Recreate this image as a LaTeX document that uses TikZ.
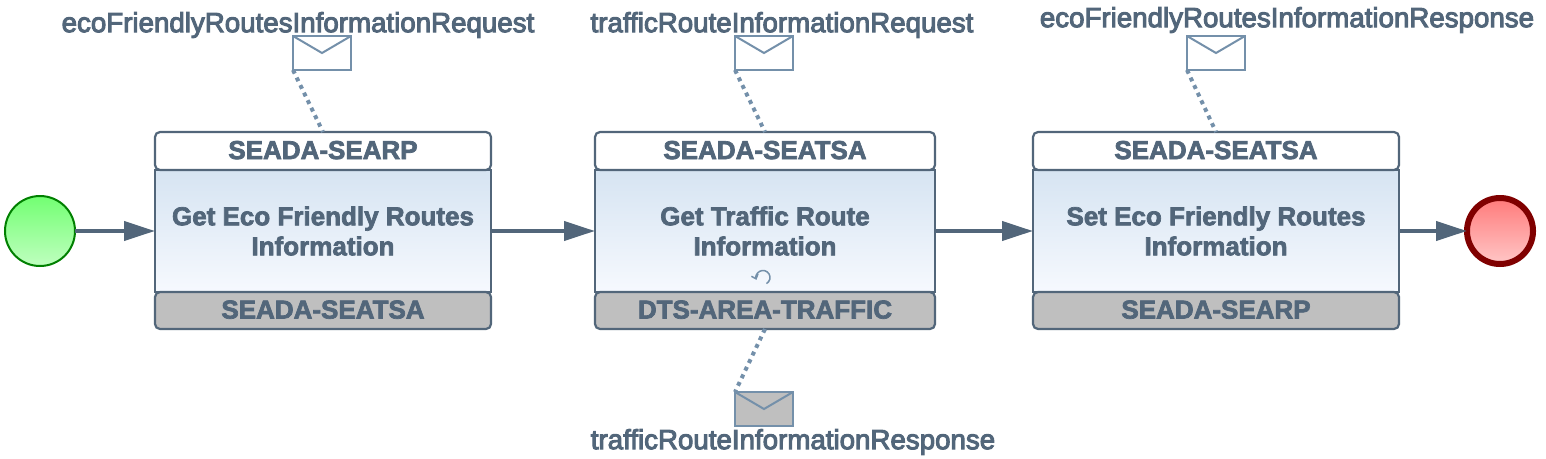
\documentclass[tikz,border=0pt]{standalone}
\usepackage{fontspec}
\setmainfont{Liberation Sans}
\usetikzlibrary{arrows.meta}
\definecolor{inkblue}{HTML}{52667A}
\definecolor{envblue}{HTML}{7490AA}
\definecolor{footgray}{HTML}{BFBFBF}
\definecolor{bodytop}{HTML}{D6E4F2}
\definecolor{bodybottom}{HTML}{F6F9FE}
\newcommand{\msgink}{\special{pdf:code 2 Tr 1 w}}
\newcommand{\taskink}{\special{pdf:code 2 Tr 0.7 w}}
\tikzset{
	taskbody/.style={draw=inkblue,line width=2.2pt,outer sep=0pt,inner sep=0pt,minimum height=122pt,top color=bodytop,bottom color=bodybottom,text=inkblue,align=center,font=\fontsize{26}{30}\selectfont\bfseries\taskink},
	taskhead/.style={draw=inkblue,line width=2.2pt,outer sep=0pt,inner sep=0pt,rounded corners=5pt,minimum height=38pt,fill=white,text=inkblue,text depth=2pt,font=\fontsize{26}{30}\selectfont\bfseries\taskink},
	taskfoot/.style={taskhead,minimum height=37pt,fill=footgray},
	envelope/.style={draw=envblue,line width=2pt,outer sep=0pt,inner sep=0pt,minimum width=58pt,minimum height=34pt,path picture={\draw[envblue,line width=2pt] (path picture bounding box.north west) -- (path picture bounding box.center) -- (path picture bounding box.north east);}},
	msglabel/.style={text=inkblue,inner sep=0pt,font=\fontsize{27.7}{30}\selectfont\msgink},
	flow/.style={draw=inkblue,line width=4pt,-{Triangle[length=31pt,width=19pt]}},
	assoc/.style={draw=envblue,line width=4pt,dash pattern=on 4pt off 4.4pt},
}
\begin{document}
\begin{tikzpicture}[x=1pt,y=-1pt]

	\useasboundingbox (0,0) rectangle (1546,458);

	% start and end
	\node[circle,draw=green!50!black,line width=2pt,minimum size=70pt,inner sep=0pt,outer sep=0pt,top color=green!55!white,bottom color=green!25!white] (start) at (40,231) {};
	\node[circle,draw=red!50!black,line width=6pt,minimum size=66pt,inner sep=0pt,outer sep=0pt,top color=red!52!white,bottom color=red!22!white] (end) at (1500,231) {};

	% tasks
	\node[taskbody,minimum width=336pt] (body1) at (323,231) {Get Eco Friendly Routes\\Information};
	\node[taskhead,minimum width=336pt] (head1) at (323,151) {SEADA-SEARP};
	\node[taskfoot,minimum width=336pt] (foot1) at (323,310.5) {SEADA-SEATSA};

	\node[taskbody,minimum width=340pt] (body2) at (765,231) {Get Traffic Route\\Information};
	\node[taskhead,minimum width=340pt] (head2) at (765,151) {SEADA-SEATSA};
	\node[taskfoot,minimum width=340pt] (foot2) at (765,310.5) {DTS-AREA-TRAFFIC};

	\node[taskbody,minimum width=366pt] (body3) at (1216,231) {Set Eco Friendly Routes\\Information};
	\node[taskhead,minimum width=366pt] (head3) at (1216,151) {SEADA-SEATSA};
	\node[taskfoot,minimum width=366pt] (foot3) at (1216,310.5) {SEADA-SEARP};

	% loop marker
	\coordinate (loop) at (763,277.5);
	\draw[envblue,line width=1.5pt,-{Straight Barb[length=4pt,width=7pt]}] (loop) ++(-60:7pt) arc (-60:200:7pt);

	% flows
	\draw[flow] (start) -- (body1);
	\draw[flow] (body1) -- (body2);
	\draw[flow] (body2) -- (body3);
	\draw[flow] (body3) -- (end);

	% messages
	\node[envelope,fill=white] (env1) at (322,53) {};
	\node[envelope,fill=white] (env2) at (764,53) {};
	\node[envelope,fill=white] (env3) at (1216,53) {};
	\node[envelope,fill=footgray] (env4) at (764,409) {};

	\node[msglabel] (msg1) at (298,25) {ecoFriendlyRoutesInformationRequest};
	\node[msglabel] (msg2) at (782,25) {trafficRouteInformationRequest};
	\node[msglabel] (msg3) at (1287,20) {ecoFriendlyRoutesInformationResponse};
	\node[msglabel] (msg4) at (793,442) {trafficRouteInformationResponse};

	\draw[assoc] (env1.south west) -- (head1.north);
	\draw[assoc] (env2.south west) -- (head2.north);
	\draw[assoc] (env3.south west) -- (head3.north);
	\draw[assoc] (foot2.south) -- (env4.north west);

\end{tikzpicture}
\end{document}
